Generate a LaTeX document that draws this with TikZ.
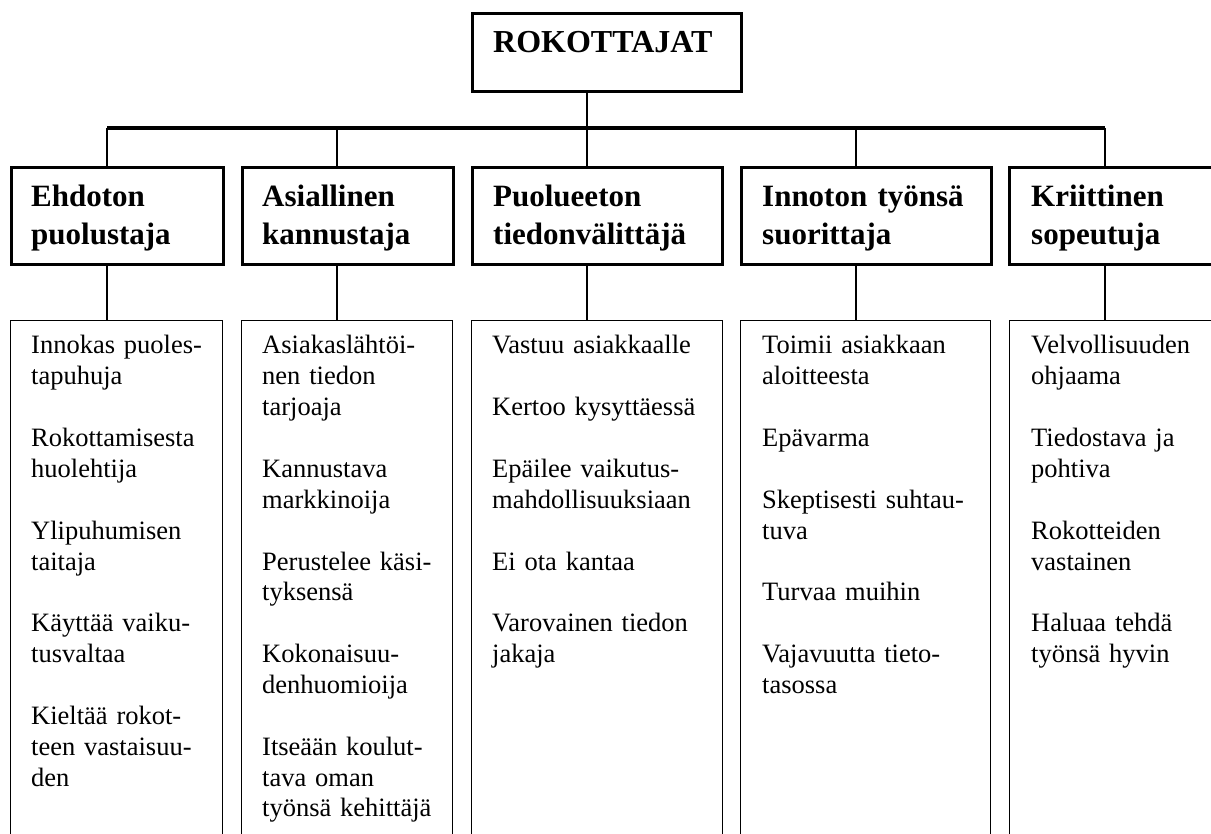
\documentclass[tikz,border=0pt]{standalone}
\usepackage{fontspec}
\setmainfont{Liberation Serif}
\newcommand\blk{\\[30.86pt]}
\tikzset{
  thickbox/.style={draw, line width=2.6pt, inner sep=0pt, anchor=north west},
  thinbox/.style={draw, line width=1.2pt, inner sep=0pt, anchor=north west},
  cattext/.style={anchor=base west, inner sep=0pt, text width=240pt, align=left,
    font=\fontsize{31}{38}\selectfont\bfseries},
  toptext/.style={anchor=base west, inner sep=0pt,
    font=\fontsize{32}{38}\selectfont\bfseries},
  dettext/.style={anchor=base west, inner sep=0pt, text width=260pt, align=left,
    font=\fontsize{26.5}{30.86}\selectfont},
  barline/.style={line width=3.2pt},
  dropline/.style={line width=2.4pt},
  thinline/.style={line width=1.2pt},
}
\begin{document}
\begin{tikzpicture}[x=1pt,y=-1pt]
\useasboundingbox (0,0) rectangle (1211,834);
\clip (0,0) rectangle (1211,834);
% top
\node[thickbox, minimum width=269pt, minimum height=78pt] (top) at (471,12) {};
\node[toptext] (toptxt) at (493,53) {ROKOTTAJAT};
% bar coordinates
\coordinate (j1) at (107,128);
\coordinate (j2) at (337,128);
\coordinate (j3) at (587,128);
\coordinate (j4) at (856,128);
\coordinate (j5) at (1105,128);
% category boxes
\node[thickbox, minimum width=212pt, minimum height=97pt] (c1) at (10,166) {};
\node[thickbox, minimum width=211pt, minimum height=97pt] (c2) at (241,166) {};
\node[thickbox, minimum width=250pt, minimum height=97pt] (c3) at (471,166) {};
\node[thickbox, minimum width=250pt, minimum height=97pt] (c4) at (740,166) {};
\node[thickbox, minimum width=250pt, minimum height=97pt] (c5) at (1008,166) {};
\node[cattext] (ct1) at (31,207) {Ehdoton\\puolustaja};
\node[cattext] (ct2) at (262,207) {Asiallinen\\kannustaja};
\node[cattext] (ct3) at (493,207) {Puolueeton\\tiedonvälittäjä};
\node[cattext] (ct4) at (762,207) {Innoton työnsä\\suorittaja};
\node[cattext] (ct5) at (1031,207) {Kriittinen\\sopeutuja};
% detail boxes
\node[thinbox, minimum width=212pt, minimum height=560pt] (d1) at (10,320) {};
\node[thinbox, minimum width=211pt, minimum height=560pt] (d2) at (241,320) {};
\node[thinbox, minimum width=251pt, minimum height=560pt] (d3) at (471,320) {};
\node[thinbox, minimum width=250pt, minimum height=560pt] (d4) at (740,320) {};
\node[thinbox, minimum width=250pt, minimum height=560pt] (d5) at (1009,320) {};
\node[dettext] (dt1) at (31,354) {Innokas puoles-\\tapuhuja\blk Rokottamisesta\\huolehtija\blk Ylipuhumisen\\taitaja\blk Käyttää vaiku-\\tusvaltaa\blk Kieltää rokot-\\teen vastaisuu-\\den};
\node[dettext] (dt2) at (262,354) {Asiakaslähtöi-\\nen tiedon\\tarjoaja\blk Kannustava\\markkinoija\blk Perustelee käsi-\\tyksensä\blk Kokonaisuu-\\denhuomioija\blk Itseään koulut-\\tava oman\\työnsä kehittäjä};
\node[dettext] (dt3) at (492,354) {Vastuu asiakkaalle\blk Kertoo kysyttäessä\blk Epäilee vaikutus-\\mahdollisuuksiaan\blk Ei ota kantaa\blk Varovainen tiedon\\jakaja};
\node[dettext] (dt4) at (762,354) {Toimii asiakkaan\\aloitteesta\blk Epävarma\blk Skeptisesti suhtau-\\tuva\blk Turvaa muihin\blk Vajavuutta tieto-\\tasossa};
\node[dettext] (dt5) at (1031,354) {Velvollisuuden\\ohjaama\blk Tiedostava ja\\pohtiva\blk Rokotteiden\\vastainen\blk Haluaa tehdä\\työnsä hyvin};
% connectors
\draw[dropline] (j3 |- top.south) -- (j3);
\draw[barline] (j1) -- (j5);
\foreach \i in {1,...,5}{
  \draw[dropline] (j\i) -- (j\i |- c\i.north);
  \draw[thinline] (j\i |- c\i.south) -- (j\i |- d\i.north);
}
\end{tikzpicture}
\end{document}
